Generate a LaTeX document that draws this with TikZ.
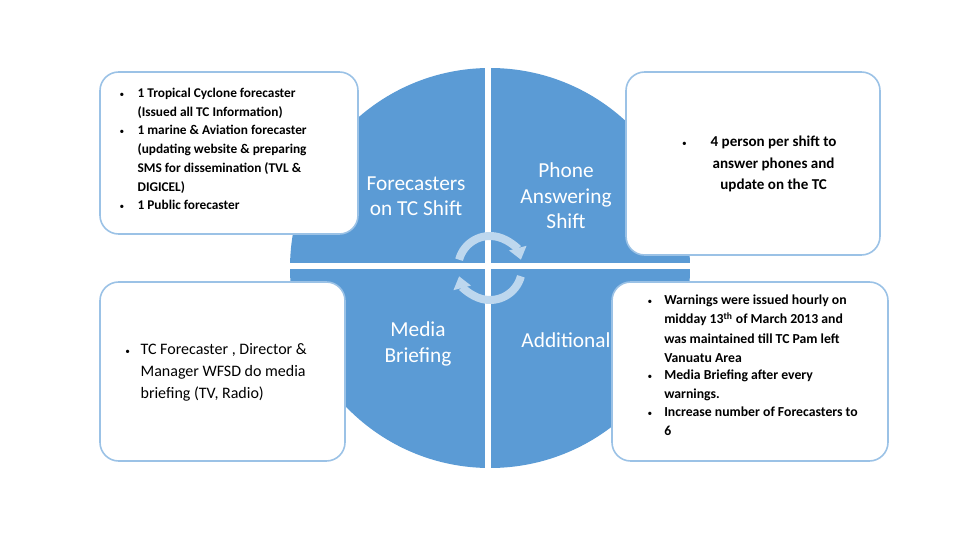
\documentclass[tikz,border=0pt]{standalone}
\usepackage{fontspec}
\setmainfont{Carlito}
\usetikzlibrary{arrows.meta}
\definecolor{qblue}{RGB}{91,155,213}
\definecolor{bord}{RGB}{155,194,230}
\definecolor{arr}{RGB}{189,215,238}
\newcommand{\sbul}{{\normalfont\scriptsize\textbullet}}
\newenvironment{blist}[2]{\begin{list}{\sbul}{\leftmargin=#1\labelwidth=6pt\labelsep=#2\itemsep=-1pt\parsep=0pt\topsep=0pt\partopsep=0pt\raggedright}}{\end{list}}
\begin{document}
\begin{tikzpicture}[x=0.75pt,y=0.75pt,
  tbox/.style={draw=bord,line width=1.2pt,fill=white,rounded corners=14pt},
  qtext/.style={text=white,font=\fontsize{16}{19}\selectfont,align=center},
  carrow/.style={arr,line width=6pt,-{Triangle[length=9pt,width=13pt]}}]
\useasboundingbox (0,0) rectangle (960,540);
% circle quadrants
\fill[qblue] (490,272) circle (200);
\fill[white] (485,60) rectangle (491,485);
\fill[white] (280,271) rectangle (700,277);
% boxes
\draw[tbox] (100,468) rectangle (358,306);
\draw[tbox] (100,258) rectangle (345,79);
\draw[tbox] (626,468) rectangle (880,285);
\draw[tbox] (612,258) rectangle (888,79);
% quadrant texts
\node[qtext] (q1) at (416,344) {Forecasters\\on TC Shift};
\node[qtext] (q2) at (566,344) {Phone\\Answering\\Shift};
\node[qtext] (q3) at (418,196) {Media\\Briefing};
\node[qtext] (q4) at (566,200) {Additional};
% circular arrows
\draw[carrow] (490,272) ++(165:32) arc (165:15:32);
\draw[carrow] (490,272) ++(-15:32) arc (-15:-165:32);
% box texts
\node[anchor=north west,inner sep=0pt,font=\bfseries\fontsize{10}{14.3}\selectfont] (t1) at (116,452) {\begin{minipage}{160pt}\begin{blist}{16pt}{10pt}
\item 1 Tropical Cyclone  forecaster (Issued all  TC Information)
\item 1 marine \& Aviation forecaster (updating website \& preparing SMS for dissemination (TVL \& DIGICEL)
\item 1 Public forecaster\end{blist}\end{minipage}};
\node[anchor=west,inner sep=0pt,font=\fontsize{12}{16.5}\selectfont] (t2) at (123,168) {\begin{minipage}{138pt}\begin{blist}{13pt}{8pt}
\item TC Forecaster , Director \& Manager WFSD do media briefing (TV, Radio)\end{blist}\end{minipage}};
\node[anchor=west,inner sep=0pt,font=\bfseries\fontsize{11.3}{16}\selectfont] (t3) at (664,376) {\begin{minipage}{140pt}\begin{list}{\sbul}{\leftmargin=24pt\labelwidth=6pt\labelsep=18pt\topsep=0pt}\item\centering 4 person per shift to answer phones and update on the TC\end{list}\end{minipage}};
\node[anchor=north west,inner sep=0pt,font=\bfseries\fontsize{10.3}{14.3}\selectfont] (t4) at (644,245) {\begin{minipage}{162pt}\begin{blist}{15pt}{9pt}
\item Warnings were issued hourly on midday 13\textsuperscript{th} of March 2013 and was maintained till TC Pam left Vanuatu Area
\item Media Briefing after every warnings.
\item Increase number of Forecasters to 6\end{blist}\end{minipage}};
\end{tikzpicture}
\end{document}
